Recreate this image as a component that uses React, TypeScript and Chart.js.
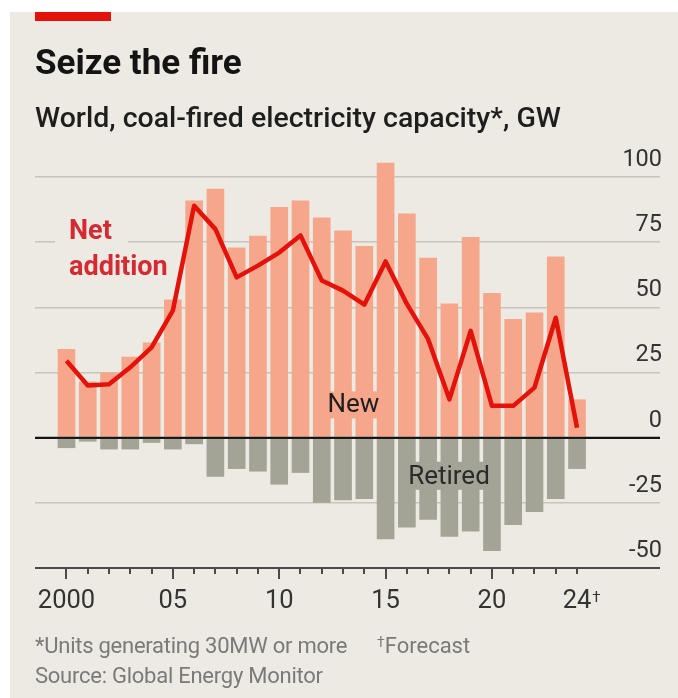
import React, { useEffect, useRef } from 'react';
import { Chart, registerables } from 'chart.js';

Chart.register(...registerables);

// ---- data ----
const years = [2000, 2001, 2002, 2003, 2004, 2005, 2006, 2007, 2008, 2009, 2010, 2011, 2012, 2013, 2014, 2015, 2016, 2017, 2018, 2019, 2020, 2021, 2022, 2023, 2024];
const newCapacity = [34, 21.5, 25, 31, 36.5, 53, 91, 95.5, 73, 77.5, 88.5, 91, 84.5, 79.5, 73.5, 105.5, 86, 69, 51.5, 77, 55.5, 45.5, 48, 69.5, 14.7];
const retiredCapacity = [-4, -1.5, -4.5, -4.5, -2, -4.5, -2.5, -15, -12, -13, -18, -13.5, -25, -24, -23.5, -39, -34.5, -31.5, -38, -36, -43.5, -33.5, -28.5, -23.5, -12];
const netAddition = [29.5, 20, 20.5, 27, 34.6, 48.7, 89, 80, 61.5, 66, 71, 77.6, 60.3, 56.4, 51, 67.6, 51.3, 37.8, 14.7, 41, 12.2, 12.2, 19.2, 46, 3.8];
const yTickValues = [-50, -25, 0, 25, 50, 75, 100];
const xLabelYears = [2000, 2005, 2010, 2015, 2020, 2024];
const xLabelTexts = ['2000', '05', '10', '15', '20', '24'];

const FONT = 'Roboto, "Noto Sans", "DejaVu Sans", sans-serif';
const BG = '#ECEAE2';
const RED = '#E3120B';
const SALMON = '#F6A78B';
const GREY = '#A3A396';

const overlayPlugin = {
  id: 'overlay',
  beforeDatasetsDraw(chart: any) {
    const { ctx, scales } = chart;
    const x = scales.x, y = scales.y;
    ctx.save();
    ctx.font = `700 27px ${FONT}`;
    const lx = x.getPixelForValue(2000.12);
    const b1 = y.getPixelForValue(76.3);
    const b2 = y.getPixelForValue(62.5);
    const w1 = ctx.measureText('Net').width;
    ctx.fillStyle = BG;
    ctx.fillRect(lx - 14, b1 - 21, w1 + 30, 28);
    ctx.fillStyle = '#D42A33';
    ctx.textBaseline = 'alphabetic';
    ctx.textAlign = 'left';
    ctx.fillText('Net', lx, b1);
    ctx.fillText('addition', lx, b2);
    ctx.restore();
  },
  afterDatasetsDraw(chart: any) {
    const { ctx, scales, chartArea } = chart;
    const x = scales.x, y = scales.y;
    ctx.save();
    // zero line
    const y0 = y.getPixelForValue(0);
    ctx.strokeStyle = '#141414';
    ctx.lineWidth = 2;
    ctx.beginPath();
    ctx.moveTo(chartArea.left, y0);
    ctx.lineTo(chartArea.right, y0);
    ctx.stroke();
    // bottom axis line + ticks
    const yb = y.getPixelForValue(-50);
    ctx.strokeStyle = '#4a4a4a';
    ctx.beginPath();
    ctx.moveTo(chartArea.left, yb);
    ctx.lineTo(chartArea.right, yb);
    ctx.stroke();
    years.forEach((yr) => {
      const px = Math.round(x.getPixelForValue(yr));
      const len = yr % 5 === 0 ? 11 : 6;
      ctx.beginPath();
      ctx.moveTo(px, yb);
      ctx.lineTo(px, yb + len);
      ctx.stroke();
    });
    // in-chart labels
    ctx.font = `400 26px ${FONT}`;
    ctx.textAlign = 'center';
    ctx.textBaseline = 'alphabetic';
    const nx = x.getPixelForValue(2013.49);
    const nb = y.getPixelForValue(9.7);
    const nw = ctx.measureText('New').width;
    ctx.fillStyle = SALMON;
    ctx.fillRect(nx - nw / 2 - 3, nb - 21, nw + 6, 27);
    ctx.fillStyle = '#1e1e1e';
    ctx.fillText('New', nx, nb);
    const rx = x.getPixelForValue(2017.98);
    const rb = y.getPixelForValue(-17.7);
    const rw = ctx.measureText('Retired').width;
    ctx.fillStyle = GREY;
    ctx.fillRect(rx - rw / 2 - 3, rb - 22, rw + 6, 28);
    ctx.fillStyle = '#2a2a2a';
    ctx.fillText('Retired', rx, rb);
    ctx.restore();
  },
  afterDraw(chart: any) {
    const { ctx, scales } = chart;
    const x = scales.x, y = scales.y;
    ctx.save();
    ctx.font = `400 25.5px ${FONT}`;
    const lw = ctx.measureText('24').width;
    ctx.font = `400 15px ${FONT}`;
    ctx.fillStyle = '#333';
    ctx.textAlign = 'left';
    ctx.textBaseline = 'top';
    ctx.fillText('\u2020', x.getPixelForValue(2024) + lw / 2 + 1, y.getPixelForValue(-50) + 23);
    ctx.restore();
  },
};

function ChartCanvas() {
  const ref = useRef<HTMLCanvasElement | null>(null);
  useEffect(() => {
    if (!ref.current) return;
    const chart = new Chart(ref.current, {
      type: 'bar',
      data: {
        datasets: [
          {
            type: 'line',
            label: 'Net addition',
            data: years.map((yr, i) => ({ x: yr, y: netAddition[i] })),
            borderColor: RED,
            borderWidth: 4.5,
            pointRadius: 0,
            tension: 0,
            borderJoinStyle: 'round',
            borderCapStyle: 'butt',
            order: 0,
            clip: false,
          } as any,
          {
            type: 'bar',
            label: 'New',
            data: years.map((yr, i) => ({ x: yr, y: newCapacity[i] })),
            backgroundColor: SALMON,
            grouped: false,
            barPercentage: 0.83,
            categoryPercentage: 1,
            order: 1,
            clip: false,
          } as any,
          {
            type: 'bar',
            label: 'Retired',
            data: years.map((yr, i) => ({ x: yr, y: retiredCapacity[i] })),
            backgroundColor: GREY,
            grouped: false,
            barPercentage: 0.83,
            categoryPercentage: 1,
            order: 1,
            clip: false,
          } as any,
        ],
      },
      options: {
        animation: false,
        responsive: false,
        maintainAspectRatio: false,
        layout: { padding: { left: 25, right: 18, top: 165, bottom: 70 } },
        plugins: { legend: { display: false }, tooltip: { enabled: false } },
        scales: {
          x: {
            type: 'linear',
            offset: false,
            min: 1998.52,
            max: 2027.9,
            grid: { display: false, drawTicks: false, offset: false },
            border: { display: false },
            afterBuildTicks: (s: any) => {
              s.ticks = xLabelYears.map((v) => ({ value: v }));
            },
            afterFit: (s: any) => {
              s.height = 60;
            },
            ticks: {
              autoSkip: false,
              maxRotation: 0,
              padding: 18,
              color: '#333',
              font: { family: FONT, size: 25.5 },
              callback: (v: any) => {
                const idx = xLabelYears.indexOf(Number(v));
                return idx >= 0 ? xLabelTexts[idx] : '';
              },
            },
          },
          y: {
            type: 'linear',
            position: 'right',
            min: -50,
            max: 100,
            afterBuildTicks: (s: any) => {
              s.ticks = yTickValues.map((v) => ({ value: v }));
            },
            afterFit: (s: any) => {
              s.width = 0;
            },
            border: { display: false },
            grid: {
              drawTicks: false,
              color: (c: any) => (c.tick && c.tick.value === 0 ? '#141414' : c.tick && c.tick.value === -50 ? '#4a4a4a' : '#C6C4BC'),
              lineWidth: (c: any) => (c.tick && (c.tick.value === 0 || c.tick.value === -50) ? 2 : 1.5),
            },
            ticks: {
              mirror: true,
              padding: 2,
              labelOffset: -17,
              color: '#333',
              font: { family: FONT, size: 23.5 },
              callback: (v: any) => String(v),
            },
          },
        },
      } as any,
      plugins: [overlayPlugin],
    });
    return () => chart.destroy();
  }, []);
  return (
    <canvas
      ref={ref}
      width={668}
      height={686}
      style={{ position: 'absolute', left: 0, top: 0, width: 668, height: 686 }}
    />
  );
}

export default function App() {
  const text = (extra: React.CSSProperties): React.CSSProperties => ({
    position: 'absolute',
    whiteSpace: 'nowrap',
    fontFamily: FONT,
    ...extra,
  });
  return (
    <div style={{ position: 'absolute', left: 10, top: 12, width: 668, height: 686, background: BG, overflow: 'hidden' }}>
      <div style={{ position: 'absolute', left: 25, top: 0, width: 76, height: 9, background: RED }} />
      <ChartCanvas />
      <div style={text({ left: 25, top: 32.5, fontSize: 35, lineHeight: '35px', fontWeight: 700, color: '#141414' })}>Seize the fire</div>
      <div style={text({ left: 25, top: 92, fontSize: 28.5, lineHeight: '28.5px', fontWeight: 500, color: '#1e1e1e' })}>
        World, coal-fired electricity capacity*, GW
      </div>
      <div style={text({ left: 25, top: 622.5, fontSize: 22, lineHeight: '22px', color: '#7a7a7a', letterSpacing: -0.25 })}>*Units generating 30MW or more</div>
      <div style={text({ left: 367, top: 622.5, fontSize: 22, lineHeight: '22px', color: '#7a7a7a' })}>
        <span style={{ fontSize: 14, position: 'relative', top: -6 }}>{'\u2020'}</span>Forecast
      </div>
      <div style={text({ left: 25, top: 652.5, fontSize: 22, lineHeight: '22px', color: '#7a7a7a', letterSpacing: -0.25 })}>Source: Global Energy Monitor</div>
    </div>
  );
}
